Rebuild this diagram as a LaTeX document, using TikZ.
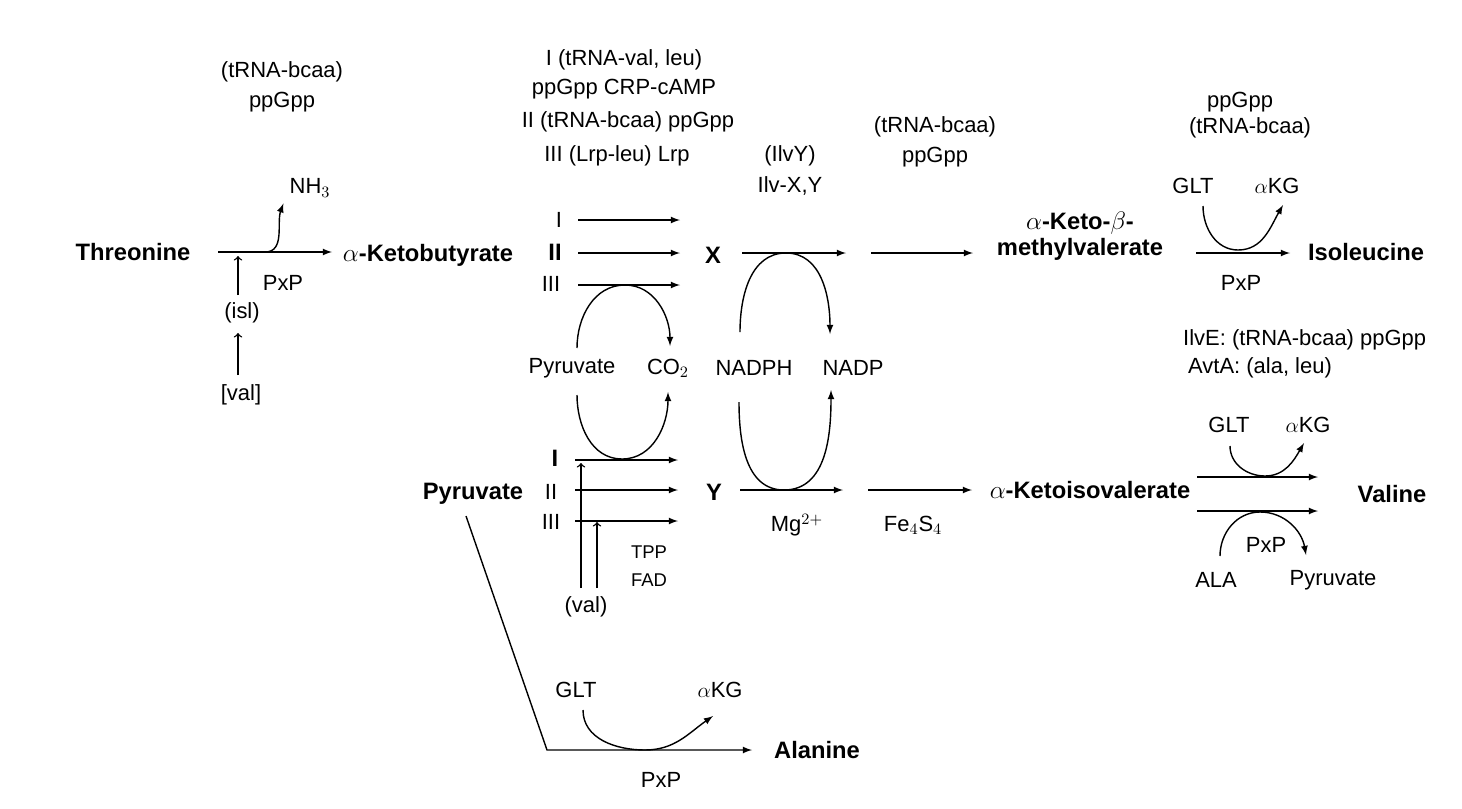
\documentclass[tikz,border=0pt]{standalone}
\usepackage{fontspec}
\setmainfont{Liberation Sans}
\usetikzlibrary{calc}

\begin{document}
\begin{tikzpicture}[x=0.02cm, y=-0.02cm, font=\fontsize{12.5}{14}\selectfont,
    mol/.style={font=\fontsize{13.5}{15}\selectfont\bfseries},
    rx/.style={draw, -latex, thick},
    reg/.style={draw, ->, thick}]
    \useasboundingbox (0,0) rectangle (1462,808);
    % Threonine to alpha-ketobutyrate
    \node [mol] (thr) at (133,252) {Threonine};
    \node (tr1) at (282,72) {(tRNA-bcaa)};
    \node (pp1) at (282,102) {ppGpp};
    \node (nh3) at (310,188) {NH$_3$};
    \node (pxp1) at (283,283) {PxP};
    \node (isl) at (242,313) {(isl)};
    \node (val1) at (241,395) {[val]};
    \node [mol] (akb) at (428,255) {$\alpha$-Ketobutyrate};
    \coordinate (t0) at (218,252);
    \coordinate (t1) at (332,252);
    \coordinate (t2) at (265,252);
    \coordinate (r1) at (238,295);
    \coordinate (r2) at (238,256);
    \coordinate (r3) at (238,375);
    \coordinate (r4) at (238,333);
    \path [rx] (t0) -- (t1);
    \path [rx] (t2) to[out=0,in=-110] (nh3.south west);
    \path [reg] (r1) -- (r2);
    \path [reg] (r3) -- (r4);
    % regulation text
    \node (g1) at (624,60) {I (tRNA-val, leu)};
    \node (g2) at (624,89) {ppGpp CRP-cAMP};
    \node (g3) at (628,122) {II (tRNA-bcaa) ppGpp};
    \node (g4) at (617,156) {III (Lrp-leu) Lrp};
    \node (ilvy) at (790,156) {(IlvY)};
    \node (ilvxy) at (790,186) {Ilv-X,Y};
    \node (tr2) at (935,127) {(tRNA-bcaa)};
    \node (pp2) at (935,157) {ppGpp};
    % upper isozymes
    \node (ui) at (559,220) {I};
    \node [mol] (uii) at (555,252) {II};
    \node (uiii) at (551,284) {III};
    \foreach \y/\n in {220/a,253/b,285/c} {
        \coordinate (u\n0) at (578,\y);
        \coordinate (u\n1) at (680,\y);
        \path [rx] (u\n0) -- (u\n1);
    }
    \node [mol] (X) at (713,255) {X};
    \coordinate (x0) at (742,253);
    \coordinate (x1) at (846,253);
    \coordinate (x2) at (871,253);
    \coordinate (x3) at (973,253);
    \path [rx] (x0) -- (x1);
    \path [rx] (x2) -- (x3);
    \node [mol, align=center] (akmv) at (1080,236) {$\alpha$-Keto-$\beta$-\\methylvalerate};
    % cofactors
    \node (pyr1) at (572,368) {Pyruvate};
    \node (co2) at (668,368) {CO$_2$};
    \node (nadph) at (754,368) {NADPH};
    \node (nadp) at (853,368) {NADP};
    \coordinate (c1) at (577,348);
    \coordinate (c2) at (625,285);
    \coordinate (c3) at (670,346);
    \coordinate (c4) at (577,395);
    \coordinate (c5) at (622,459);
    \coordinate (c6) at (668,392);
    \path [rx] (c1) to[out=90,in=180] (c2) to[out=0,in=90] (c3);
    \path [rx] (c4) to[out=-90,in=180] (c5) to[out=0,in=-90] (c6);
    \coordinate (n1) at (740,332);
    \coordinate (n2) at (786,253);
    \coordinate (n3) at (830,334);
    \coordinate (n4) at (739,402);
    \coordinate (n5) at (784,490);
    \coordinate (n6) at (831,390);
    \path [rx] (n1) to[out=90,in=180] (n2) to[out=0,in=90] (n3);
    \path [rx] (n4) to[out=-90,in=180] (n5) to[out=0,in=-90] (n6);
    % lower isozymes
    \node [mol] (pyr2) at (473,494) {Pyruvate};
    \node [mol] (li) at (555,458) {I};
    \node (lii) at (551,492) {II};
    \node (liii) at (551,522) {III};
    \foreach \y/\n in {460/a,490/b,521/c} {
        \coordinate (l\n0) at (575,\y);
        \coordinate (l\n1) at (678,\y);
        \path [rx] (l\n0) -- (l\n1);
    }
    \node (val2) at (586,607) {(val)};
    \node (tpp) at (649,552) {\fontsize{10.5}{12}\selectfont TPP};
    \node (fad) at (649,580) {\fontsize{10.5}{12}\selectfont FAD};
    \coordinate (v1) at (581,588);
    \coordinate (v2) at (581,463);
    \coordinate (v3) at (597,588);
    \coordinate (v4) at (597,522);
    \path [reg] (v1) -- (v2);
    \path [reg] (v3) -- (v4);
    \node [mol] (Y) at (714,492) {Y};
    \coordinate (y0) at (740,490);
    \coordinate (y1) at (843,490);
    \coordinate (y2) at (868,490);
    \coordinate (y3) at (972,490);
    \path [rx] (y0) -- (y1);
    \path [rx] (y2) -- (y3);
    \node (mg) at (797,525) {Mg$^{2+}$};
    \node (fes) at (913,525) {Fe$_4$S$_4$};
    \node [mol] (akiv) at (1090,490) {$\alpha$-Ketoisovalerate};
    % isoleucine
    \node (pp3) at (1240,102) {ppGpp};
    \node (tr3) at (1250,128) {(tRNA-bcaa)};
    \node (glt1) at (1193,186) {GLT};
    \node (akg1) at (1277,186) {$\alpha$KG};
    \node (pxp2) at (1241,283) {PxP};
    \node [mol] (ile) at (1366,252) {Isoleucine};
    \coordinate (i0) at (1196,253);
    \coordinate (i1) at (1290,253);
    \coordinate (i2) at (1203,206);
    \coordinate (i3) at (1238,250);
    \coordinate (i4) at (1283,205);
    \path [rx] (i0) -- (i1);
    \path [rx] (i2) to[out=-90,in=180] (i3) to[out=0,in=-120] (i4);
    % valine
    \node [anchor=west] (ilve) at (1177,340) {IlvE: (tRNA-bcaa) ppGpp};
    \node [anchor=west] (avta) at (1182,368) {AvtA: (ala, leu)};
    \node (glt2) at (1229,425) {GLT};
    \node (akg2) at (1308,425) {$\alpha$KG};
    \node [mol] (val) at (1392,494) {Valine};
    \node (pxp3) at (1266,545) {PxP};
    \node (ala) at (1216,580) {ALA};
    \node (pyr3) at (1333,580) {Pyruvate};
    \coordinate (w0) at (1197,477);
    \coordinate (w1) at (1318,477);
    \coordinate (w2) at (1197,511);
    \coordinate (w3) at (1318,511);
    \path [rx] (w0) -- (w1);
    \path [rx] (w2) -- (w3);
    \coordinate (w4) at (1230,446);
    \coordinate (w5) at (1265,476);
    \coordinate (w6) at (1304,443);
    \coordinate (w7) at (1220,556);
    \coordinate (w8) at (1260,512);
    \coordinate (w9) at (1306,555);
    \path [rx] (w4) to[out=-90,in=180] (w5) to[out=0,in=-120] (w6);
    \path [rx] (w7) to[out=90,in=180] (w8) to[out=0,in=100] (w9);
    % alanine
    \node (glt3) at (576,690) {GLT};
    \node (akg3) at (720,690) {$\alpha$KG};
    \node (pxp4) at (661,780) {PxP};
    \node [mol] (alan) at (817,750) {Alanine};
    \coordinate (a0) at (466,516);
    \coordinate (a1) at (547,750);
    \coordinate (a2) at (752,750);
    \coordinate (a3) at (583,710);
    \coordinate (a4) at (645,750);
    \coordinate (a5) at (713,716);
    \path [rx] (a0) -- (a1) -- (a2);
    \path [rx] (a3) to[out=-90,in=180] (a4) to[out=0,in=-145] (a5);
\end{tikzpicture}
\end{document}
